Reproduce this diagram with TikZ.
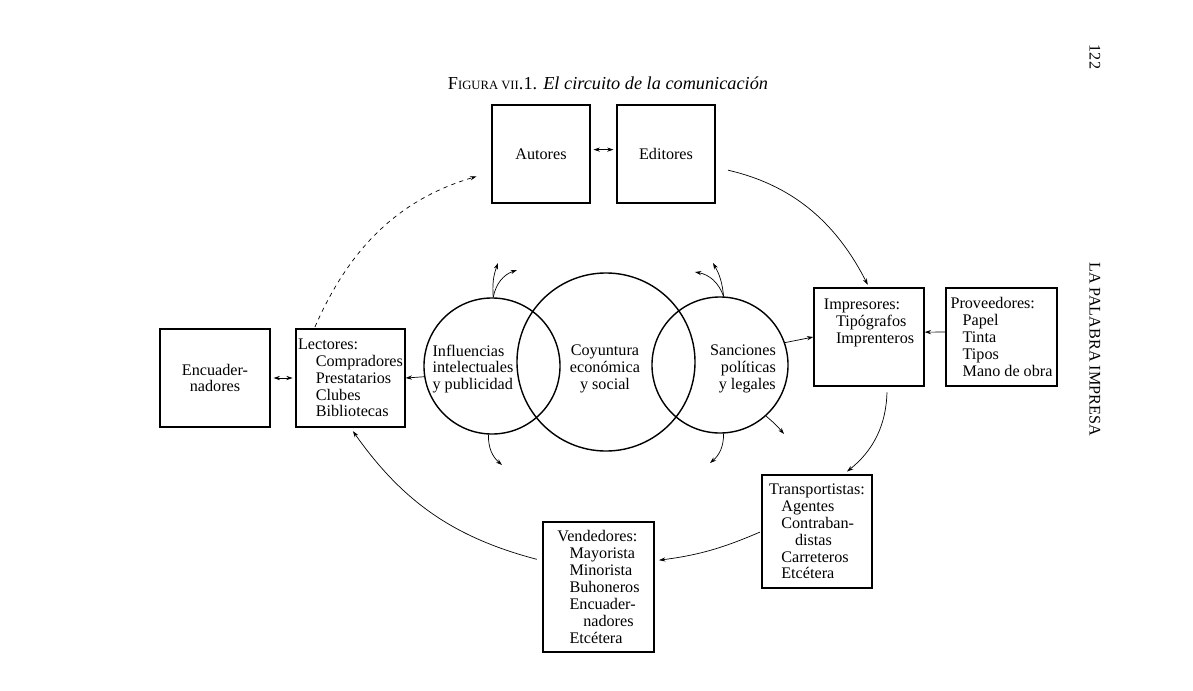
\documentclass[tikz,border=0pt]{standalone}
\usepackage{fontspec}
\setmainfont{Liberation Serif}
\usetikzlibrary{arrows.meta}
\newcommand{\sang}[1][0.75em]{\hspace*{#1}}
\tikzset{
  caja/.style={draw, line width=1pt, inner sep=0pt, align=left},
  aro/.style={draw, shape=circle, line width=1pt, inner sep=0pt},
}

\begin{document}
\begin{tikzpicture}[x=0.025cm, y=-0.025cm, line width=0.5pt,
  >={Stealth[length=4.5pt,width=3pt]}, font=\fontsize{11.5}{12}\selectfont]
\useasboundingbox (0,0) rectangle (1193,691);
\node (T) at (608,83) {\fontsize{13}{14}\selectfont F{\fontsize{9}{10}\selectfont IGURA VII}.1. \textit{El circuito de la comunicación}};
\node[rotate=-90] (P) at (1095,57) {122};
\node[rotate=-90] (L) at (1095,349) {LA PALABRA IMPRESA};
\node[caja, minimum width=2.45cm, minimum height=2.45cm] (Aut) at (541,154) {Autores};
\node[caja, minimum width=2.45cm, minimum height=2.45cm] (Edi) at (666,154) {Editores};
\node[caja, align=center, minimum width=2.75cm, minimum height=2.45cm] (Enc) at (215,378) {Encuader-\\nadores};
\node[caja, minimum width=2.72cm, minimum height=2.45cm] (Lec) at (350.5,378) {Lectores:\\\sang[1.1em]Compradores\\\sang[1.1em]Prestatarios\\\sang[1.1em]Clubes\\\sang[1.1em]Bibliotecas};
\node[caja, minimum width=2.75cm, minimum height=2.45cm] (Imp) at (869,337) {Impresores:\\\sang Tipógrafos\\\sang Imprenteros\\[10pt]};
\node[caja, minimum width=2.78cm, minimum height=2.45cm] (Pro) at (1001.5,337) {Proveedores:\\\sang Papel\\\sang Tinta\\\sang Tipos\\\sang Mano de obra};
\node[caja, minimum width=2.75cm, minimum height=2.83cm] (Tra) at (817,531.5) {Transportistas:\\\sang Agentes\\\sang Contraban-\\\sang[1.6em]distas\\\sang Carreteros\\\sang Etcétera};
\node[caja, minimum width=2.78cm, minimum height=3.25cm] (Ven) at (598.5,587) {Vendedores:\\\sang Mayorista\\\sang Minorista\\\sang Buhoneros\\\sang Encuader-\\\sang[1.6em]nadores\\\sang Etcétera};
\node[aro, minimum size=3.4cm] (Inf) at (492,366) {};
\node[aro, minimum size=4.45cm] (Coy) at (606,362) {};
\node[aro, minimum size=3.4cm] (San) at (720,365) {};
\node[align=left] (InfT) at (473,369) {Influencias\\intelectuales\\y publicidad};
\node[align=center] (CoyT) at (605,369) {Coyuntura\\económica\\y social};
\node[align=right] (SanT) at (743,369) {Sanciones\\políticas\\y legales};
\coordinate (a1) at (498,263);
\coordinate (a2) at (517,270);
\coordinate (b1) at (713,263);
\coordinate (b2) at (695,272);
\coordinate (c1) at (502,465);
\coordinate (d1) at (710,463);
\coordinate (e1) at (784,434);
\draw [<->, shorten <=2pt, shorten >=2pt] (Aut.5) -- (Edi.175);
\draw [<->, shorten <=2pt, shorten >=2pt] (Enc) -- (Lec);
\draw [->] (Pro.175) -- (Imp.5);
\draw [->] (Inf.189) -- (Lec.east);
\draw [->] (San.19) -- (Imp.west);
\draw [->, shorten <=9pt, shorten >=2pt] (Edi.-15) to[bend left=25] (Imp.north);
\draw [->, shorten <=4pt, shorten >=3pt] (Imp.-70) to[bend left=25] (Tra.65);
\draw [->, shorten <=1pt, shorten >=3pt] (Tra.west) to[bend left=8] (Ven.25);
\draw [->, shorten <=4pt, shorten >=3pt] (Ven.155) to[bend left=20] (Lec.south);
\draw [->, dashed, shorten <=1pt, shorten >=11pt] (Lec.126) to[bend left=25] (Aut.200);
\draw [->] (Inf.89) to[bend left=12] (a1);
\draw [->] (Inf.89) to[bend left=30] (a2);
\draw [->] (San.87) to[bend right=12] (b1);
\draw [->] (San.87) to[bend right=30] (b2);
\draw [->] (Inf.267) to[bend right=25] (c1);
\draw [->] (San.273) to[bend left=25] (d1);
\draw [->] (San.312) to[bend left=5] (e1);
\end{tikzpicture}
\end{document}
